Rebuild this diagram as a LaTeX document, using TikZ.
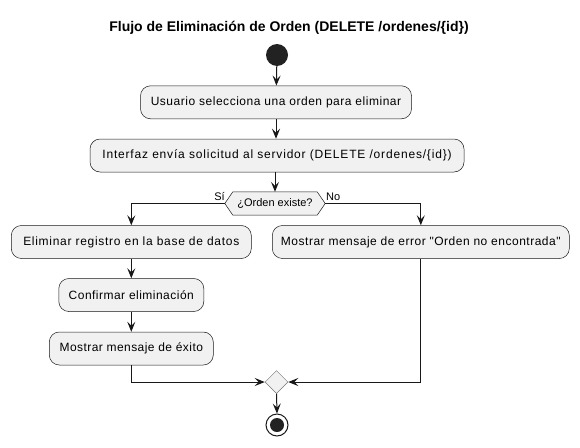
\documentclass[tikz,border=0pt]{standalone}
\usepackage{fontspec}
\setmainfont{Liberation Sans}
\newfontfamily\boxfont{Liberation Sans}[Ligatures=TeXOff]
\usetikzlibrary{arrows.meta,backgrounds,shapes.geometric}
\definecolor{boxfill}{HTML}{F1F1F1}
\definecolor{ink}{HTML}{181818}
\definecolor{dot}{HTML}{222222}
\begin{document}
\begin{tikzpicture}[x=1pt,y=-1pt,
  actbox/.style={draw=ink,line width=0.5pt,fill=boxfill,rounded corners=10pt,
    minimum height=33pt,inner sep=0pt},
  ls/.style={font={\boxfont\fontsize{12}{14}\selectfont\addfontfeature{LetterSpace=#1}}},
  arr/.style={draw=ink,line width=1pt,-{Stealth[length=10pt,width=8pt,inset=4pt]}},
  lbl/.style={font=\fontsize{11}{13}\selectfont,inner sep=0pt}]
\useasboundingbox (0,0) rectangle (580,447);
\node[font=\bfseries\fontsize{14}{16}\selectfont] (title) at (289,28) {Flujo de Eliminación de Orden (DELETE /ordenes/\{id\})};
\node[circle,fill=dot,minimum size=22pt,inner sep=0pt] (start) at (277,55) {};
\node[actbox,ls=4.4,minimum width=271pt] (b1) at (276,102.3) {Usuario selecciona una orden para eliminar};
\node[actbox,ls=6.8,minimum width=374pt] (b2) at (277,155.5) {Interfaz envía solicitud al servidor (DELETE /ordenes/\{id\})};
\node[minimum width=100pt,minimum height=23pt,inner sep=0pt,font=\fontsize{11}{13}\selectfont] (dec) at (275,203.5) {¿Orden existe?};
\begin{scope}[on background layer]
\filldraw[draw=ink,line width=0.5pt,fill=boxfill] (dec.west) -- ([xshift=8pt]dec.north west) -- ([xshift=-8pt]dec.north east) -- (dec.east) -- ([xshift=-8pt]dec.south east) -- ([xshift=8pt]dec.south west) -- cycle;
\end{scope}
\node[actbox,ls=5.9,minimum width=240pt] (b3) at (131.3,242) {Eliminar registro en la base de datos};
\node[actbox,ls=4.2,minimum width=297pt] (b4) at (420.8,242) {Mostrar mensaje de error "Orden no encontrada"};
\node[actbox,ls=4.0,minimum width=145pt] (b5) at (131.3,295) {Confirmar eliminación};
\node[actbox,ls=3.6,minimum width=164pt] (b6) at (131.3,348.5) {Mostrar mensaje de éxito};
\node[diamond,draw=ink!60,line width=0.5pt,fill=boxfill,minimum width=23pt,minimum height=23pt,inner sep=0pt] (merge) at (276.5,382) {};
\node[circle,draw=ink,line width=1pt,fill=white,minimum size=22pt,inner sep=0pt] (end) at (277,425) {};
\node[circle,fill=dot,minimum size=14pt,inner sep=0pt] (endin) at (277,425) {};
\node[lbl,anchor=south east] (si) at (225,201) {Sí};
\node[lbl,anchor=south west] (no) at (326,201) {No};
\draw[arr] (start) -- (b1);
\draw[arr] (b1) -- (b2.north -| b1);
\draw[arr] (b2.south -| dec) -- (dec.north);
\draw[arr] (dec.west) -| (b3.north);
\draw[arr] (dec.east) -| (b4.north);
\draw[arr] (b3) -- (b5);
\draw[arr] (b5) -- (b6);
\draw[arr] (b6.south) |- (merge.west);
\draw[arr] (b4.south) |- (merge.east);
\draw[arr] (merge.south) -- (end.north);
\end{tikzpicture}
\end{document}
